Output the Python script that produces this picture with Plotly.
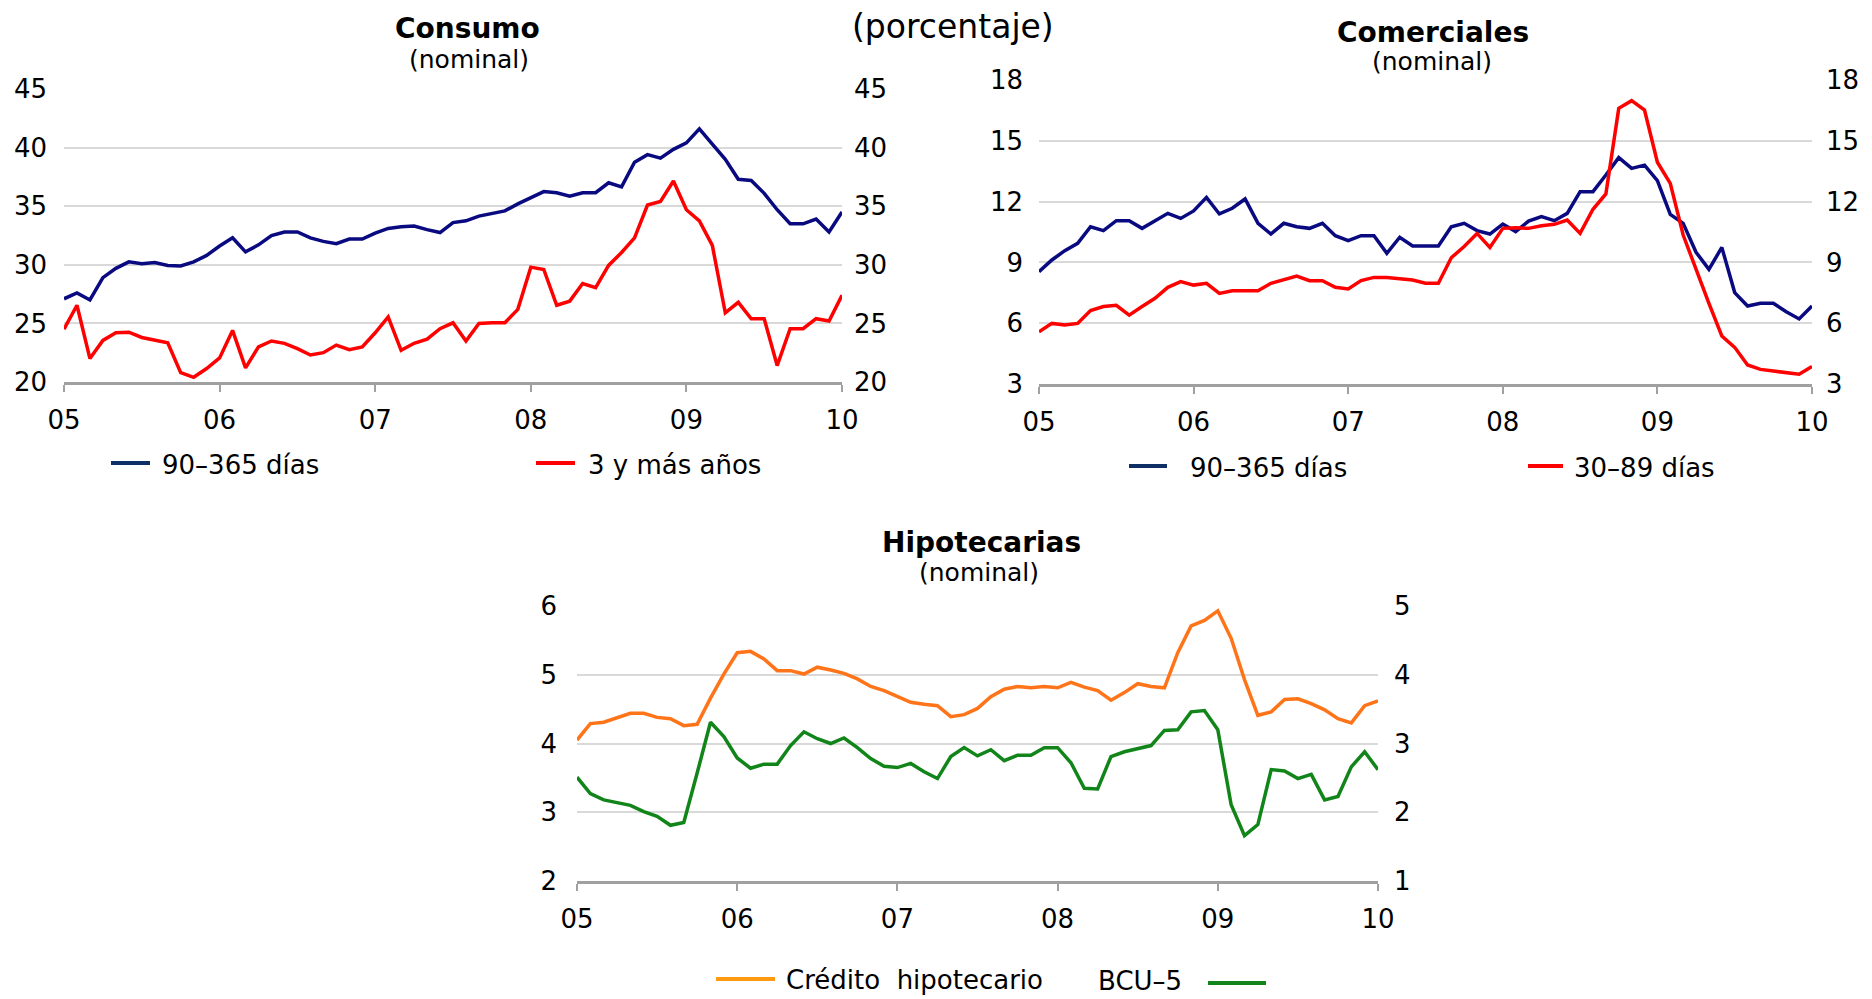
import plotly.graph_objects as go

# The page body has an 8px margin, so the figure is drawn 8px in from the
# top-left corner; positions below are given in window pixels and shifted.
OFF = 8
W, H = 1872 - OFF, 999 - OFF

# ---------------- data (monthly, Jan-2005 .. Jan-2010) ----------------
x_ticks = [0, 12, 24, 36, 48, 60]
x_labels = ["05", "06", "07", "08", "09", "10"]
months = list(range(61))

consumo_90_365 = [27.1, 27.6, 27.0, 28.9, 29.7, 30.25, 30.1, 30.2, 29.95, 29.9, 30.25, 30.8,
                  31.6, 32.3, 31.1, 31.7, 32.5, 32.8, 32.8, 32.3, 32.0, 31.8, 32.2, 32.2,
                  32.7, 33.1, 33.25, 33.3, 33.0, 32.75, 33.6, 33.75, 34.15, 34.4, 34.6, 35.2,
                  35.75, 36.25, 36.15, 35.85, 36.15, 36.15, 37.0, 36.65, 38.75, 39.4, 39.1, 39.85,
                  40.4, 41.6, 40.3, 39.0, 37.3, 37.2, 36.1, 34.7, 33.5, 33.5, 33.9, 32.8,
                  34.5]
consumo_3_mas = [24.5, 26.55, 22.0, 23.55, 24.2, 24.25, 23.8, 23.55, 23.35, 20.8, 20.4, 21.15,
                 22.05, 24.4, 21.2, 23.0, 23.5, 23.3, 22.85, 22.3, 22.5, 23.15, 22.75, 23.0,
                 24.2, 25.55, 22.7, 23.3, 23.65, 24.55, 25.05, 23.5, 25.0, 25.05, 25.05, 26.2,
                 29.8, 29.6, 26.55, 26.9, 28.4, 28.05, 29.95, 31.05, 32.3, 35.1, 35.4, 37.15,
                 34.7, 33.75, 31.65, 25.9, 26.8, 25.4, 25.4, 21.4, 24.55, 24.55, 25.4, 25.2,
                 27.4]
comerc_90_365 = [8.54, 9.12, 9.58, 9.94, 10.76, 10.57, 11.06, 11.06, 10.68, 11.04, 11.42, 11.17,
                 11.54, 12.21, 11.39, 11.67, 12.13, 10.93, 10.4, 10.93, 10.76, 10.68, 10.93, 10.32,
                 10.07, 10.32, 10.32, 9.45, 10.24, 9.81, 9.81, 9.81, 10.76, 10.93, 10.57, 10.4,
                 10.89, 10.52, 11.04, 11.26, 11.06, 11.42, 12.49, 12.49, 13.31, 14.17, 13.64, 13.8,
                 13.03, 11.37, 10.93, 9.5, 8.66, 9.74, 7.51, 6.85, 6.98, 6.98, 6.57, 6.21,
                 6.85]
comerc_30_89 = [5.58, 5.99, 5.91, 5.99, 6.62, 6.82, 6.88, 6.4, 6.82, 7.23, 7.77, 8.05,
                7.88, 7.97, 7.47, 7.6, 7.6, 7.6, 7.97, 8.13, 8.33, 8.1, 8.1, 7.77,
                7.69, 8.1, 8.26, 8.26, 8.21, 8.13, 7.97, 7.97, 9.23, 9.78, 10.43, 9.74,
                10.68, 10.71, 10.68, 10.81, 10.88, 11.09, 10.43, 11.62, 12.38, 16.6, 16.98, 16.52,
                13.94, 12.9, 10.35, 8.63, 6.98, 5.37, 4.81, 3.94, 3.72, 3.64, 3.58, 3.48,
                3.86]
credito_hipotecario = [4.05, 4.29, 4.31, 4.37, 4.44, 4.44, 4.38, 4.36, 4.26, 4.28, 4.66, 5.01,
                       5.32, 5.34, 5.23, 5.06, 5.06, 5.01, 5.11, 5.07, 5.02, 4.94, 4.83, 4.77,
                       4.68, 4.6, 4.57, 4.55, 4.39, 4.42, 4.51, 4.68, 4.79, 4.83, 4.81, 4.83,
                       4.81, 4.89, 4.82, 4.77, 4.63, 4.74, 4.87, 4.83, 4.81, 5.32, 5.71, 5.79,
                       5.93, 5.53, 4.93, 4.41, 4.46, 4.64, 4.65, 4.58, 4.49, 4.36, 4.3, 4.55,
                       4.62]
bcu_5 = [2.51, 2.27, 2.18, 2.14, 2.10, 2.01, 1.94, 1.81, 1.85, 2.57, 3.31, 3.10,
         2.79, 2.64, 2.70, 2.70, 2.97, 3.17, 3.07, 3.00, 3.08, 2.94, 2.78, 2.67,
         2.65, 2.71, 2.59, 2.49, 2.81, 2.94, 2.82, 2.91, 2.75, 2.83, 2.83, 2.94,
         2.94, 2.72, 2.35, 2.34, 2.81, 2.88, 2.93, 2.97, 3.19, 3.20, 3.46, 3.48,
         3.20, 2.11, 1.66, 1.82, 2.62, 2.60, 2.49, 2.55, 2.18, 2.23, 2.66, 2.88,
         2.62]

# ---------------- styling ----------------
FONT = "DejaVu Sans, Verdana, sans-serif"
NAVY = "#0a0a80"
RED = "#ff0000"
ORANGE = "#ff7418"
GREEN = "#12851a"
GRID = "#d9d9d9"
AXIS = "#a0a0a0"


def px(x):
    return (x - OFF) / W


def py(y):
    return 1 - (y - OFF) / H


fig = go.Figure()
lw = 3.5
fig.add_trace(go.Scatter(x=months, y=consumo_90_365, name="90–365 días", mode="lines",
                         line=dict(color=NAVY, width=lw), xaxis="x", yaxis="y"))
fig.add_trace(go.Scatter(x=months, y=consumo_3_mas, name="3 y más años", mode="lines",
                         line=dict(color=RED, width=lw), xaxis="x", yaxis="y2"))
fig.add_trace(go.Scatter(x=months, y=comerc_90_365, name="90–365 días", mode="lines",
                         line=dict(color=NAVY, width=lw), xaxis="x2", yaxis="y3"))
fig.add_trace(go.Scatter(x=months, y=comerc_30_89, name="30–89 días", mode="lines",
                         line=dict(color=RED, width=lw), xaxis="x2", yaxis="y4"))
fig.add_trace(go.Scatter(x=months, y=credito_hipotecario, name="Crédito hipotecario", mode="lines",
                         line=dict(color=ORANGE, width=lw), xaxis="x3", yaxis="y5"))
fig.add_trace(go.Scatter(x=months, y=bcu_5, name="BCU–5", mode="lines",
                         line=dict(color=GREEN, width=lw), xaxis="x3", yaxis="y6"))

tickfont = dict(family=FONT, size=26, color="black")


def xax(domain, anchor):
    return dict(domain=domain, anchor=anchor, range=[0, 60], tickmode="array",
                tickvals=x_ticks, ticktext=x_labels, showgrid=False, zeroline=False,
                showline=True, linecolor=AXIS, linewidth=3, ticks="outside",
                ticklen=7, tickwidth=2, tickcolor=AXIS, tickfont=tickfont,
                ticklabelstandoff=6, fixedrange=True, automargin=False)


def yax(domain, anchor, rng, dtick, side="left", overlaying=None, grid=True, standoff=14):
    d = dict(domain=domain, anchor=anchor, range=rng, dtick=dtick, tick0=rng[0],
             showgrid=grid, gridcolor=GRID, gridwidth=1.5, zeroline=False,
             showline=False, ticks="", tickfont=tickfont, side=side,
             ticklabelstandoff=standoff, fixedrange=True, automargin=False)
    if overlaying:
        d["overlaying"] = overlaying
    return d


fig.update_layout(
    width=W, height=H,
    autosize=False,
    margin=dict(l=0, r=0, t=0, b=0, pad=0, autoexpand=False),
    paper_bgcolor="white", plot_bgcolor="white",
    showlegend=False,
    font=dict(family=FONT, color="black"),
    xaxis=xax([px(64), px(842)], "y"),
    yaxis=yax([py(382), py(89)], "x", [20, 45], 5, standoff=16),
    yaxis2=yax([py(382), py(89)], "x", [20, 45], 5, side="right", overlaying="y", grid=False, standoff=11),
    xaxis2=xax([px(1039), px(1812)], "y3"),
    yaxis3=yax([py(384), py(80)], "x2", [3, 18], 3, standoff=15),
    yaxis4=yax([py(384), py(80)], "x2", [3, 18], 3, side="right", overlaying="y3", grid=False, standoff=13),
    xaxis3=xax([px(577), px(1378)], "y5"),
    yaxis5=yax([py(881), py(606)], "x3", [2, 6], 1, standoff=19),
    yaxis6=yax([py(881), py(606)], "x3", [1, 5], 1, side="right", overlaying="y5", grid=False, standoff=15),
)

ann = []


def text(x, y, s, size, bold=False, anchor="center", pad=1):
    ann.append(dict(x=px(x), y=py(y), xref="paper", yref="paper", text=(f"<b>{s}</b>" if bold else s),
                    showarrow=False, xanchor=anchor, yanchor="middle", borderpad=pad,
                    font=dict(family=FONT, size=size, color="black")))


text(953, 27, "(porcentaje)", 33, pad=0)
text(467, 28, "Consumo", 28, bold=True)
text(469, 59, "(nominal)", 25)
text(1433, 32, "Comerciales", 28, bold=True)
text(1432, 61, "(nominal)", 25)
text(982, 542, "Hipotecarias", 28, bold=True)
text(979, 572, "(nominal)", 25)

# legends (swatch + label)
shapes = []


def swatch(x0, x1, y, color):
    shapes.append(dict(type="line", xref="paper", yref="paper", x0=px(x0), x1=px(x1),
                       y0=py(y), y1=py(y), line=dict(color=color, width=4)))


swatch(111, 150, 463, "#0d2f66")
text(160, 465, "90–365 días", 26, anchor="left")
swatch(536, 575, 463, RED)
text(586, 465, "3 y más años", 26, anchor="left")

swatch(1129, 1167, 466, "#0d2f66")
text(1188, 468, "90–365 días", 26, anchor="left")
swatch(1528, 1563, 466, RED)
text(1572, 468, "30–89 días", 26, anchor="left")

swatch(716, 775, 979, "#ff9a10")
text(784, 980, "Crédito\u00a0\u00a0hipotecario", 26, anchor="left")
text(1096, 981, "BCU–5", 26, anchor="left")
swatch(1208, 1266, 983, GREEN)

fig.update_layout(annotations=ann, shapes=shapes)

fig.write_html("out.html")
